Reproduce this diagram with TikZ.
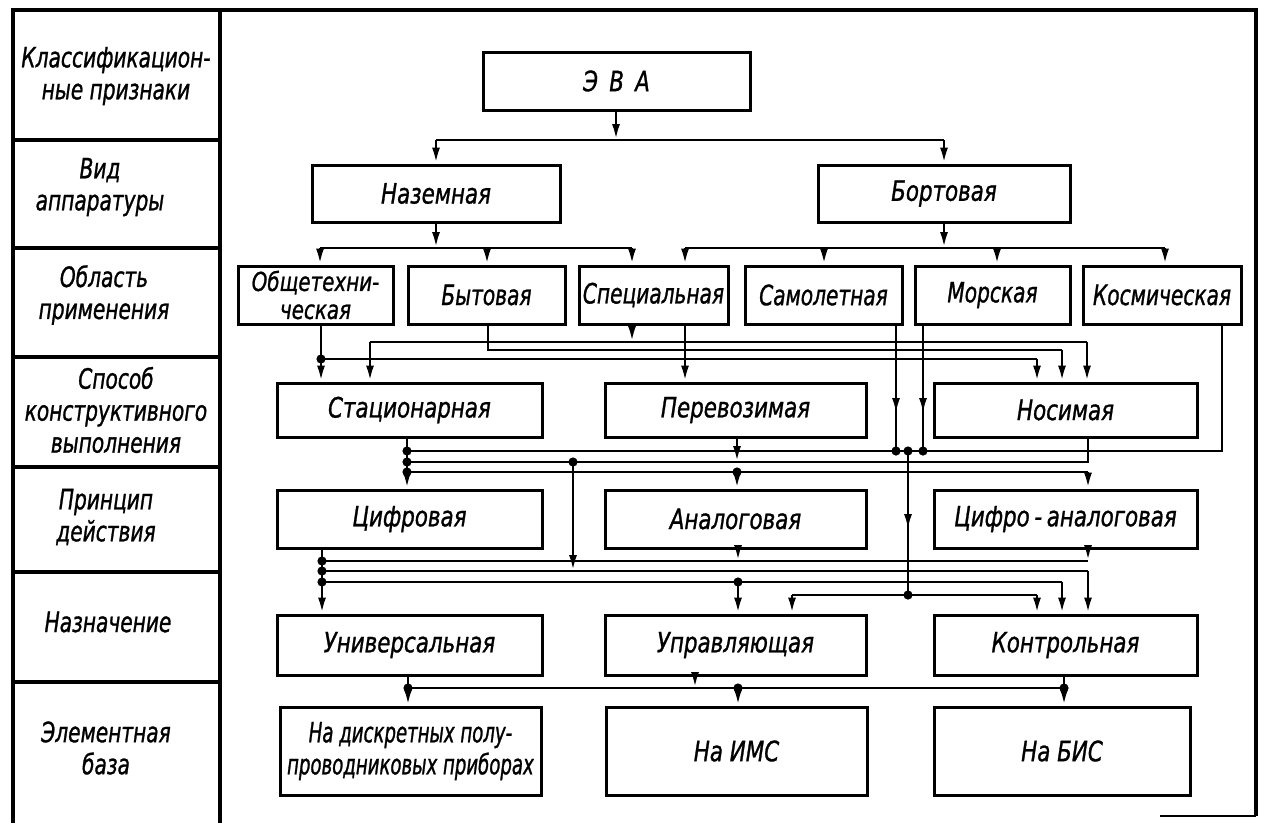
\documentclass[tikz,border=0pt]{standalone}
\usepackage{fontspec}
\newfontfamily\gost{DejaVu Sans Condensed Oblique}[FakeStretch=0.85,FakeBold=1]
\newfontfamily\gostl{DejaVu Sans Condensed Oblique}[FakeStretch=0.8,FakeBold=1]
\newfontfamily\gostn{DejaVu Sans Condensed Oblique}[FakeStretch=0.72,FakeBold=1]
\usetikzlibrary{arrows.meta}
\begin{document}
\begin{tikzpicture}[x=1pt,y=-1pt,
  box/.style={draw,line width=3pt,inner sep=0pt,align=center,
    font=\gost\fontsize{28}{32}\selectfont},
  narrowbox/.style={box,font=\gostl\fontsize{28}{32}\selectfont},
  lab/.style={align=center,inner sep=0pt,font=\gostl\fontsize{28}{32}\selectfont},
  con/.style={line width=2.8pt},
  arr/.style={con,-{Latex[length=16pt,width=8pt]}},
  frame/.style={line width=4.2pt},
  dot/.style={fill=black}]
\useasboundingbox (0,0) rectangle (1265,823);

% ---------- frame and classification column ----------
\draw[frame] (13,10) -- (1256,10);
\draw[frame] (13,8) -- (13,823);
\draw[frame] (220,10) -- (220,823);
\draw[frame] (1256,8) -- (1256,816);
\draw[con] (1160,816) -- (1256,816);
\foreach \yy in {140,248,357,467,572,682}
  \draw[frame] (13,\yy) -- (220,\yy);

\node[lab] (l1) at (116,76)  {Классификацион-\\ные признаки};
\node[lab] (l2) at (100,187) {Вид\\аппаратуры};
\node[lab] (l3) at (104,295) {Область\\применения};
\node[lab] (l4) at (116,410) {Способ\\конструктивного\\выполнения};
\node[lab] (l5) at (106,517) {Принцип\\действия};
\node[lab] (l6) at (108,622) {Назначение};
\node[lab] (l7) at (106,748) {Элементная\\база};

% ---------- boxes ----------
\node[box,minimum width=267pt,minimum height=58pt] (eva) at (616.5,81) {Э\hspace{0.4em}В\hspace{0.4em}А};
\node[box,minimum width=248pt,minimum height=57pt] (nazem) at (436,193.5) {Наземная};
\node[box,minimum width=252pt,minimum height=57pt] (bort) at (944,193.5) {Бортовая};

\begin{scope}[every node/.append style={minimum height=58pt}]
\node[narrowbox,minimum width=155pt,font=\gost\fontsize{26}{28}\selectfont] (obsh) at (315.5,295) {Общетехни-\\ческая};
\node[narrowbox,minimum width=157pt] (byt)   at (486.5,295) {Бытовая};
\node[narrowbox,minimum width=149pt] (spec)  at (653.5,295) {Специальная};
\node[narrowbox,minimum width=157pt] (samol) at (823.5,295) {Самолетная};
\node[narrowbox,minimum width=155pt] (mor)   at (992.5,295) {Морская};
\node[narrowbox,minimum width=158pt] (kosm)  at (1162,295)  {Космическая};
\end{scope}

\begin{scope}[every node/.append style={minimum height=54pt}]
\node[box,minimum width=265pt] (stac)  at (409.5,410)  {Стационарная};
\node[box,minimum width=261pt] (perev) at (735.5,410)  {Перевозимая};
\node[box,minimum width=263pt] (nos)   at (1065.5,410) {Носимая};
\end{scope}

\begin{scope}[every node/.append style={minimum height=58pt}]
\node[box,minimum width=265pt] (cifr)   at (409.5,519)  {Цифровая};
\node[box,minimum width=261pt] (anal)   at (735.5,519)  {Аналоговая};
\node[box,minimum width=263pt] (cifran) at (1065.5,519) {Цифро\,-\,аналоговая};
\end{scope}

\begin{scope}[every node/.append style={minimum height=60pt}]
\node[box,minimum width=265pt] (univ)  at (409.5,645)  {Универсальная};
\node[box,minimum width=261pt] (upr)   at (735.5,645)  {Управляющая};
\node[box,minimum width=263pt] (kontr) at (1065.5,645) {Контрольная};
\end{scope}

\begin{scope}[every node/.append style={minimum height=88pt}]
\node[box,minimum width=261pt,font=\gostn\fontsize{28}{32}\selectfont] (disk) at (410.5,751) {На дискретных полу-\\проводниковых приборах};
\node[box,minimum width=261pt] (ims) at (736.5,751) {На ИМС};
\node[box,minimum width=256pt] (bis) at (1062,751)  {На БИС};
\end{scope}

% ---------- junction points ----------
\coordinate (s0) at (616,140);  \coordinate (s0l) at (436,140); \coordinate (s0r) at (944,140);
\coordinate (n0) at (436,248);  \coordinate (nl) at (320,248);  \coordinate (nb) at (487,248); \coordinate (nr) at (632,248);
\coordinate (b0) at (944,248);  \coordinate (bl) at (685,248);  \coordinate (bs) at (824,248);
\coordinate (bm) at (997,248);  \coordinate (bk) at (1165,248);
\coordinate (oj) at (321,359);  \coordinate (oc) at (1037,359);
\coordinate (bt) at (488,350);  \coordinate (btc) at (1062,350);
\coordinate (sa) at (632,342);  \coordinate (nal) at (370,342); \coordinate (nar) at (1087,342);
\coordinate (sm) at (896,414);  \coordinate (sj) at (896,451);
\coordinate (mm) at (923,414);  \coordinate (mj) at (923,451);
\coordinate (kc) at (1222,451);
\coordinate (la) at (407,451);  \coordinate (lb) at (407,462);  \coordinate (lc) at (407,472);
\coordinate (lbr) at (1088,462); \coordinate (pv) at (737,462);
\coordinate (lcr) at (1088,472); \coordinate (ac) at (737,472);
\coordinate (vb) at (573,462);  \coordinate (vbe) at (573,571);
\coordinate (cj) at (908,451);  \coordinate (cm) at (908,530);  \coordinate (cd) at (908,595);
\coordinate (ma) at (322,561);  \coordinate (mb) at (322,571);  \coordinate (mc) at (322,582);
\coordinate (mae) at (1088,561); \coordinate (at) at (738,561);
\coordinate (mbr) at (1088,571);
\coordinate (mcr) at (1062,582); \coordinate (mcu) at (738,582);
\coordinate (mdl) at (792,595); \coordinate (mdr) at (1037,595);
\coordinate (u0) at (408,688);  \coordinate (ue) at (1064,688);
\coordinate (ut) at (695,688);  \coordinate (ui) at (738,688);

% ---------- equipment type ----------
\draw[arr] (eva.south -| s0) -- (s0);
\draw[con] (s0l) -- (s0r);
\draw[arr] (s0l) -- (nazem.north -| s0l);
\draw[arr] (s0r) -- (bort.north -| s0r);

% ---------- field of application ----------
\draw[arr] (nazem.south -| n0) -- (n0);
\draw[con] (nl) -- (nr);
\draw[arr] (nl) -- (obsh.north -| nl);
\draw[arr] (nb) -- (byt.north -| nb);
\draw[arr] (nr) -- (spec.north -| nr);
\draw[arr] (bort.south -| b0) -- (b0);
\draw[con] (bl) -- (bk);
\draw[arr] (bl) -- (spec.north -| bl);
\draw[arr] (bs) -- (samol.north -| bs);
\draw[arr] (bm) -- (mor.north -| bm);
\draw[arr] (bk) -- (kosm.north -| bk);

% ---------- design ----------
\draw[arr] (obsh.south -| oj) -- (stac.north -| oj);
\draw[con] (oj) -- (oc);
\draw[arr] (oc) -- (nos.north -| oc);
\draw[con] (byt.south -| bt) -- (bt) -- (btc);
\draw[arr] (btc) -- (nos.north -| btc);
\draw[arr] (spec.south -| sa) -- (sa);
\draw[con] (nal) -- (nar);
\draw[arr] (nal) -- (stac.north -| nal);
\draw[arr] (nar) -- (nos.north -| nar);
\draw[arr] (spec.south -| bl) -- (perev.north -| bl);
\draw[con] (samol.south -| sm) -- (sj);
\draw[arr] (samol.south -| sm) -- (sm);
\draw[con] (mor.south -| mm) -- (mj);
\draw[arr] (mor.south -| mm) -- (mm);
\draw[con] (kosm.south -| kc) -- (kc) -- (la);

% ---------- operating principle ----------
\draw[arr] (stac.south -| la) -- (cifr.north -| la);
\draw[con] (lb) -- (lbr) -- (nos.south -| lbr);
\draw[arr] (perev.south -| pv) -- (pv);
\draw[con] (lc) -- (lcr);
\draw[arr] (lcr) -- (cifran.north -| lcr);
\draw[arr] (ac) -- (anal.north -| ac);
\draw[arr] (vb) -- (vbe);
\draw[con] (cj) -- (cd);
\draw[arr] (cj) -- (cm);

% ---------- purpose ----------
\draw[arr] (cifr.south -| ma) -- (univ.north -| ma);
\draw[con] (ma) -- (mae);
\draw[arr] (anal.south -| at) -- (at);
\draw[arr] (cifran.south -| mae) -- (mae);
\draw[con] (mb) -- (mbr);
\draw[arr] (mbr) -- (kontr.north -| mbr);
\draw[con] (mc) -- (mcr);
\draw[arr] (mcr) -- (kontr.north -| mcr);
\draw[arr] (mcu) -- (upr.north -| mcu);
\draw[con] (mdl) -- (mdr);
\draw[arr] (mdl) -- (upr.north -| mdl);
\draw[arr] (mdr) -- (kontr.north -| mdr);

% ---------- element base ----------
\draw[arr] (univ.south -| u0) -- (disk.north -| u0);
\draw[con] (u0) -- (ue);
\draw[arr] (upr.south -| ut) -- (ut);
\draw[arr] (ui) -- (ims.north -| ui);
\draw[arr] (kontr.south -| ue) -- (bis.north -| ue);

% ---------- junction dots ----------
\foreach \p in {oj,sj,mj,cj,la,lb,lc,ac,vb,cd,ma,mb,mc,mcu,u0,ui,ue}
  \fill[dot] (\p) circle (4.6pt);
\end{tikzpicture}
\end{document}
